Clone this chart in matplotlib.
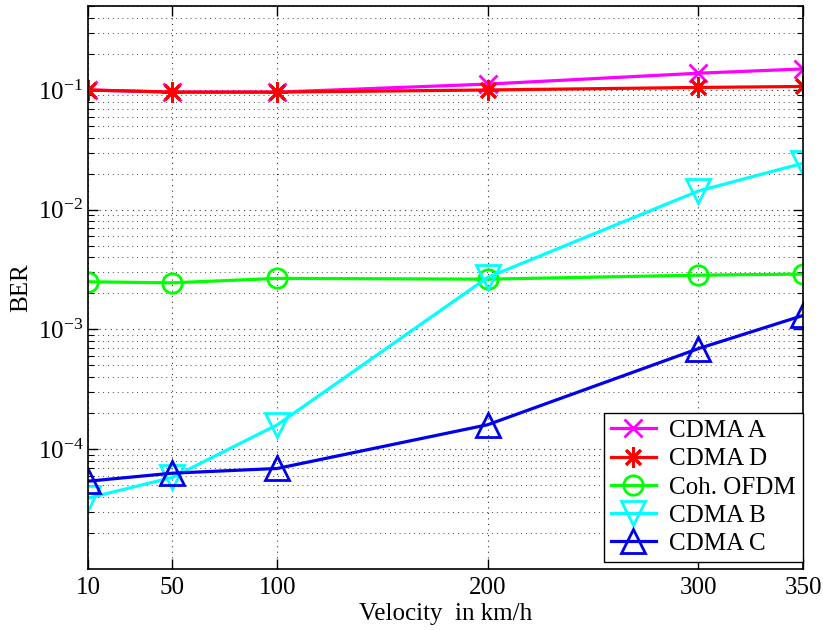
import matplotlib
matplotlib.use("Agg")
import matplotlib.pyplot as plt
from matplotlib.ticker import LogLocator, FixedLocator, NullFormatter

plt.rcParams["font.family"] = ["Liberation Serif", "DejaVu Serif"]
plt.rcParams["mathtext.fontset"] = "custom"
plt.rcParams["mathtext.rm"] = "Liberation Serif"
plt.rcParams["mathtext.it"] = "Liberation Serif:italic"

velocity = [10, 50, 100, 200, 300, 350]

ber_cdma_a = [0.100, 0.096, 0.096, 0.112, 0.138, 0.150]
ber_cdma_d = [0.100, 0.096, 0.096, 0.100, 0.105, 0.107]
ber_ofdm = [0.00250, 0.00245, 0.00267, 0.00263, 0.00284, 0.00290]
ber_cdma_b = [3.9e-5, 5.8e-5, 1.6e-4, 0.00272, 0.0143, 0.0245]
ber_cdma_c = [5.4e-5, 6.3e-5, 6.9e-5, 1.6e-4, 6.9e-4, 1.31e-3]

ber_decades = [1e-4, 1e-3, 1e-2, 1e-1]

series = [
    ("CDMA A", ber_cdma_a, "#ff00ff", "x", 13),
    ("CDMA D", ber_cdma_d, "#ff0000", (8, 2, 0), 15),
    ("Coh. OFDM", ber_ofdm, "#00ff00", "o", 14),
    ("CDMA B", ber_cdma_b, "#00ffff", "v", 17),
    ("CDMA C", ber_cdma_c, "#0000ee", "^", 17),
]

fig = plt.figure(figsize=(8.23, 6.30), dpi=100)
ax = fig.add_axes([0.107, 0.097, 0.869, 0.893])

for label, vals, color, marker, ms in series:
    ax.plot(velocity, vals, color=color, lw=2.3, marker=marker, ms=ms,
            mfc="none", mec=color, mew=2.0, label=label)

ax.set_yscale("log")
ax.set_xlim(10, 350)
ax.set_ylim(1e-5, 0.5)

ax.xaxis.set_major_locator(FixedLocator(velocity))
ax.yaxis.set_major_locator(FixedLocator(ber_decades))
ax.yaxis.set_minor_locator(LogLocator(base=10, subs=range(2, 10), numticks=20))
ax.yaxis.set_minor_formatter(NullFormatter())

ax.grid(True, which="major", axis="both", ls=(0, (1, 4)), color="#333333", lw=0.8)
ax.grid(True, which="minor", axis="y", ls=(0, (1, 4)), color="#444444", lw=0.7)

ax.tick_params(which="both", direction="in", top=True, right=True, labelsize=18)
ax.tick_params(which="major", length=7, width=1.0)
ax.tick_params(which="minor", length=4, width=0.8)
ax.tick_params(axis="x", pad=6)
for sp in ax.spines.values():
    sp.set_linewidth(1.2)

ax.set_xlabel("Velocity  in km/h", fontsize=18, labelpad=2.5)
ax.set_ylabel("BER", fontsize=18, labelpad=4)

leg = ax.legend(loc="lower right", bbox_to_anchor=(1.0, 0.012), fontsize=18,
                handlelength=1.8, labelspacing=0.23, borderpad=0.28,
                handletextpad=0.55, borderaxespad=0.0,
                fancybox=False, framealpha=1, edgecolor="black")
leg.get_frame().set_linewidth(1.0)

fig.savefig("out.png", dpi=100)
